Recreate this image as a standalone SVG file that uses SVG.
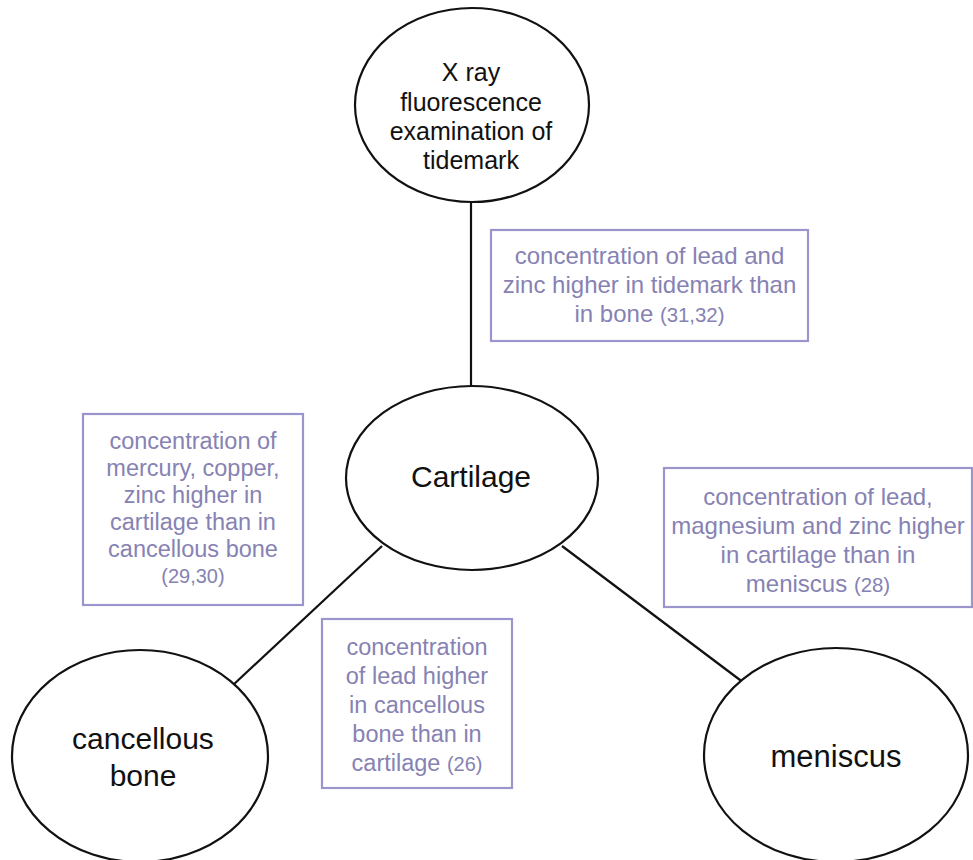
<svg xmlns="http://www.w3.org/2000/svg" width="973" height="860" viewBox="0 0 973 860">
<style>
.node{fill:#fff;stroke:#111;stroke-width:2.2}
.nt{font-family:"Liberation Sans",Arial,sans-serif;fill:#111;text-anchor:middle}
.box{fill:#fff;stroke:#9a95cc;stroke-width:2.2}
.bt{font-family:"Liberation Sans",Arial,sans-serif;fill:#8682b3;text-anchor:middle}
.ref{font-size:0.85em}
.conn{stroke:#111;stroke-width:2.2;fill:none}
</style>
<rect width="973" height="860" fill="#fff"/>
<g id="connectors">
<line class="conn" x1="471" y1="200" x2="471" y2="390"/>
<line class="conn" x1="382" y1="546" x2="232" y2="686"/>
<line class="conn" x1="562" y1="546" x2="748" y2="686"/>
</g>
<g id="node-xray">
<ellipse class="node" cx="472" cy="105" rx="117" ry="97"/>
<text class="nt" font-size="25"><tspan x="471" y="81">X ray</tspan><tspan x="471" y="111">fluorescence</tspan><tspan x="471" y="140">examination of</tspan><tspan x="471" y="169">tidemark</tspan></text>
</g>
<g id="node-cartilage">
<ellipse class="node" cx="472" cy="478" rx="126" ry="92"/>
<text class="nt" font-size="30" x="471" y="487">Cartilage</text>
</g>
<g id="node-cancellous">
<ellipse class="node" cx="140" cy="756" rx="128" ry="106"/>
<text class="nt" font-size="30"><tspan x="143" y="749">cancellous</tspan><tspan x="143" y="786">bone</tspan></text>
</g>
<g id="node-meniscus">
<ellipse class="node" cx="836" cy="755" rx="132" ry="107"/>
<text class="nt" font-size="31" x="836" y="767">meniscus</text>
</g>
<g id="label-tidemark">
<rect class="box" x="491" y="230" width="317" height="111"/>
<text class="bt" font-size="24"><tspan x="649.5" y="264">concentration of lead and</tspan><tspan x="649.5" y="293">zinc higher in tidemark than</tspan><tspan x="649.5" y="322">in bone <tspan class="ref">(31,32)</tspan></tspan></text>
</g>
<g id="label-cancellous">
<rect class="box" x="83" y="414" width="220" height="191"/>
<text class="bt" font-size="23.5"><tspan x="193" y="449">concentration of</tspan><tspan x="193" y="476">mercury, copper,</tspan><tspan x="193" y="503">zinc higher in</tspan><tspan x="193" y="530">cartilage than in</tspan><tspan x="193" y="557">cancellous bone</tspan><tspan x="193" y="583" class="ref">(29,30)</tspan></text>
</g>
<g id="label-meniscus">
<rect class="box" x="664" y="468" width="308" height="139"/>
<text class="bt" font-size="24"><tspan x="818" y="505">concentration of lead,</tspan><tspan x="818" y="534">magnesium and zinc higher</tspan><tspan x="818" y="563">in cartilage than in</tspan><tspan x="818" y="592">meniscus <tspan class="ref">(28)</tspan></tspan></text>
</g>
<g id="label-lead">
<rect class="box" x="322" y="619" width="190" height="169"/>
<text class="bt" font-size="23.5"><tspan x="417" y="655">concentration</tspan><tspan x="417" y="684">of lead higher</tspan><tspan x="417" y="713">in cancellous</tspan><tspan x="417" y="742">bone than in</tspan><tspan x="417" y="771">cartilage <tspan class="ref">(26)</tspan></tspan></text>
</g>
</svg>
